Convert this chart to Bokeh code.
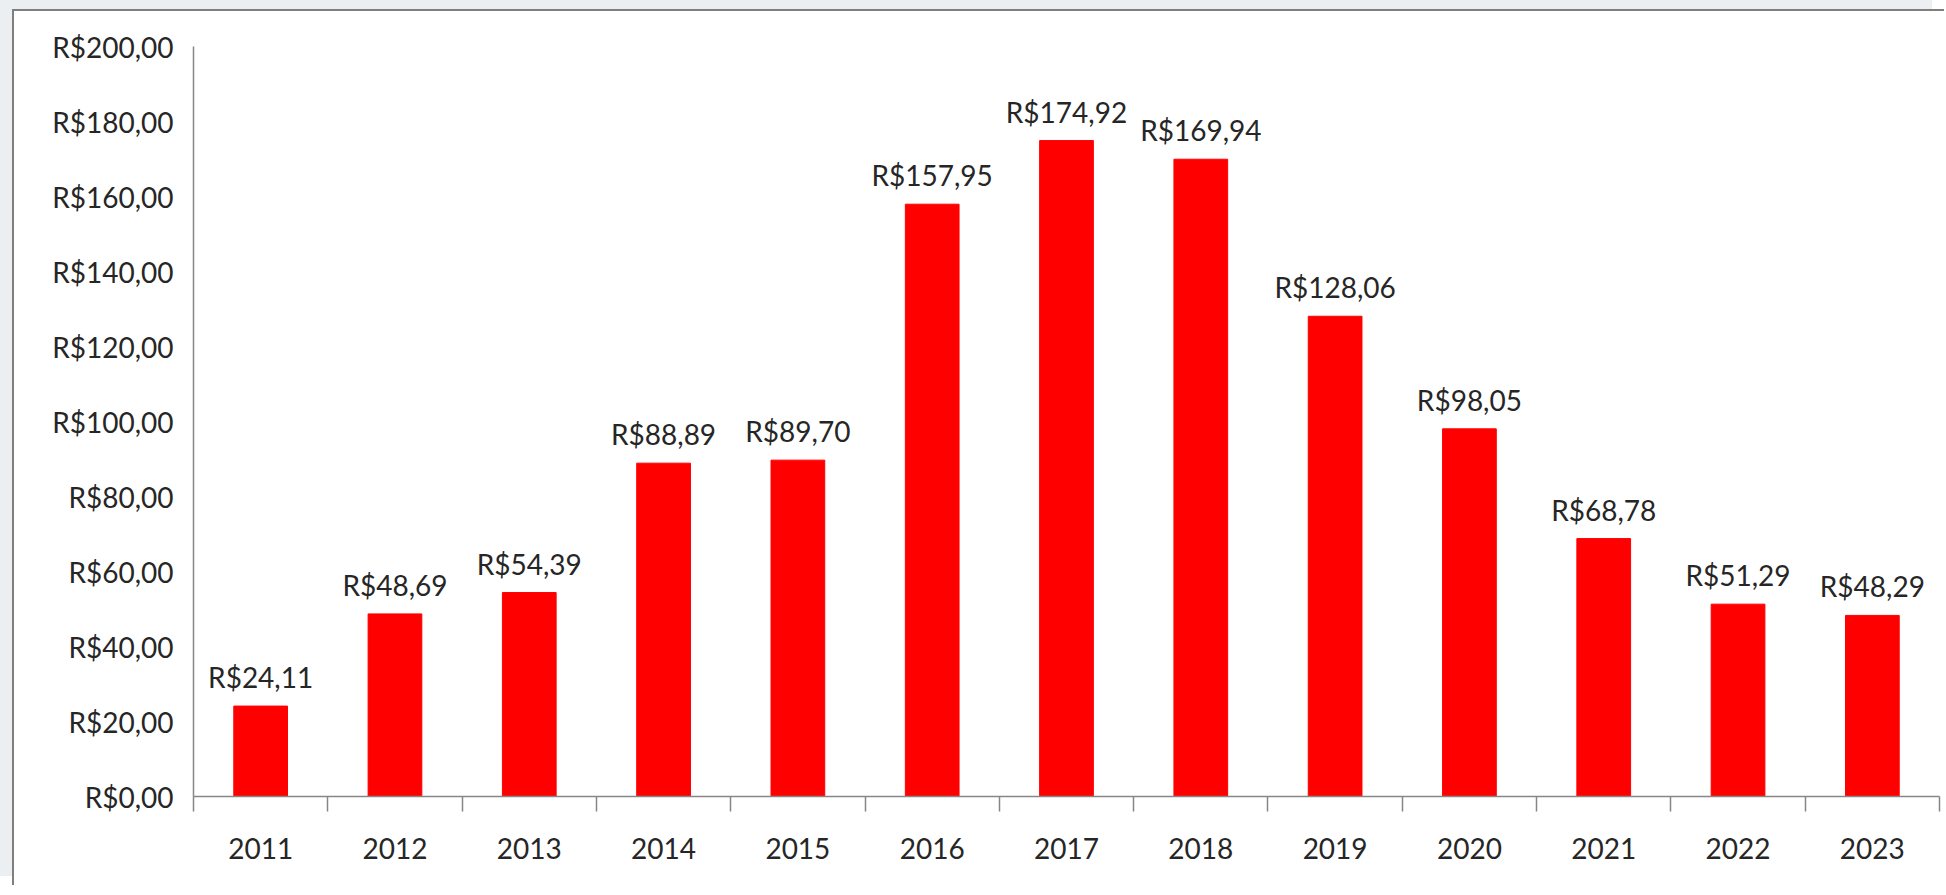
from bokeh.plotting import figure
from bokeh.models import ColumnDataSource, FixedTicker, LabelSet
from bokeh.core.properties import value
from bokeh.embed import file_html
from bokeh.resources import INLINE

# ---- data ----
years = [2011, 2012, 2013, 2014, 2015, 2016, 2017, 2018, 2019, 2020, 2021, 2022, 2023]
values = [24.11, 48.69, 54.39, 88.89, 89.70, 157.95, 174.92, 169.94, 128.06, 98.05, 68.78, 51.29, 48.29]
value_labels = ["R$24,11", "R$48,69", "R$54,39", "R$88,89", "R$89,70", "R$157,95", "R$174,92",
                "R$169,94", "R$128,06", "R$98,05", "R$68,78", "R$51,29", "R$48,29"]
y_ticks = [0, 20, 40, 60, 80, 100, 120, 140, 160, 180, 200]
y_tick_labels = ["R$0,00", "R$20,00", "R$40,00", "R$60,00", "R$80,00", "R$100,00",
                 "R$120,00", "R$140,00", "R$160,00", "R$180,00", "R$200,00"]

FONT = "Lato"
TXT = "#262626"
AX = "#868686"

src = ColumnDataSource(dict(year=years, value=values, label=value_labels))

p = figure(width=1932, height=876,
           x_range=(years[0] - 0.5, years[-1] + 0.5), y_range=(y_ticks[0], y_ticks[-1]),
           output_backend="svg", toolbar_location=None,
           min_border_left=179, min_border_right=7, min_border_top=35, min_border_bottom=91)
p.background_fill_color = "white"
p.border_fill_color = "white"
p.outline_line_color = None
p.outline_line_alpha = 0
p.xgrid.grid_line_color = None
p.ygrid.grid_line_color = None

p.vbar(x="year", top="value", bottom=0, width=0.4, source=src,
       fill_color="#ff0000", line_color="#ff0000")

labels = LabelSet(x="year", y="value", text="label", source=src,
                  y_offset=29, text_align="center", text_baseline="middle",
                  text_font=value(FONT), text_font_size=value("28px"), text_color=value(TXT))
p.add_layout(labels)

# x axis: year labels at centres, tick marks at category boundaries
xa = p.xaxis[0]
xa.ticker = FixedTicker(ticks=years, minor_ticks=[y - 0.5 for y in years] + [years[-1] + 0.5])
xa.major_label_overrides = {y: str(y) for y in years}
xa.major_tick_out = 0
xa.major_tick_in = 0
xa.minor_tick_out = 15
xa.minor_tick_in = 0
xa.minor_tick_line_color = AX
xa.minor_tick_line_width = 1.5
xa.axis_line_color = AX
xa.axis_line_width = 1.5
xa.major_label_standoff = 26
xa.major_label_text_font = FONT
xa.major_label_text_font_size = "28px"
xa.major_label_text_color = TXT

ya = p.yaxis[0]
ya.ticker = FixedTicker(ticks=y_ticks, minor_ticks=[])
ya.major_label_overrides = {t: s for t, s in zip(y_ticks, y_tick_labels)}
ya.major_tick_out = 0
ya.major_tick_in = 0
ya.minor_tick_out = 0
ya.minor_tick_in = 0
ya.axis_line_color = AX
ya.axis_line_width = 1.5
ya.major_label_standoff = 20
ya.major_label_text_font = FONT
ya.major_label_text_font_size = "28px"
ya.major_label_text_color = TXT

p.styles = {"border-top": "2px solid #7f7f7f", "border-left": "2px solid #7f7f7f",
            "background-color": "white",
            "box-shadow": "-12px -9px 0 0 #eceff1"}
p.margin = (9, 0, 0, 12)

open("out.html", "w").write(file_html(p, INLINE))
